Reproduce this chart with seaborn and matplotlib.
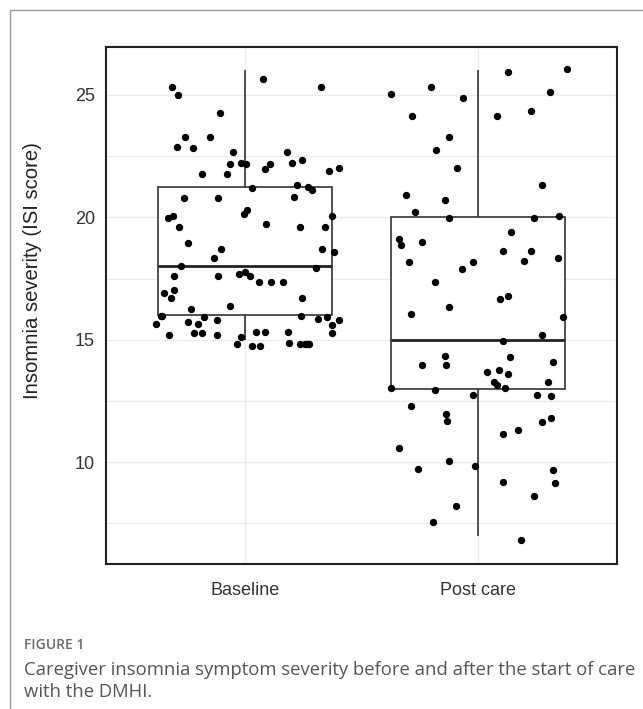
import numpy as np
import pandas as pd
import matplotlib
matplotlib.use('Agg')
import matplotlib.pyplot as plt
from matplotlib.lines import Line2D
import seaborn as sns

groups = ['Baseline', 'Post care']

# ISI scores as plotted (jittered vertically)
baseline_isi = [25.31, 24.99, 25.65, 25.31, 24.26, 23.28, 23.28, 22.89, 22.82, 22.68,
                22.68, 22.17, 22.23, 22.17, 22.17, 21.96, 22.23, 22.36, 21.77, 21.76,
                21.89, 22.03, 21.19, 21.32, 21.25, 21.12, 20.78, 20.78, 20.84, 19.99,
                20.05, 20.12, 20.32, 20.05, 19.59, 19.73, 19.59, 19.59, 18.94, 18.72,
                18.34, 18.72, 18.58, 18.02, 17.94, 17.61, 17.61, 17.68, 17.77, 17.61,
                17.37, 17.37, 17.37, 16.91, 17.03, 16.69, 16.70, 16.24, 16.38, 15.99,
                15.66, 15.71, 15.64, 15.92, 15.79, 15.99, 15.85, 15.92, 15.79, 15.59,
                15.26, 15.19, 15.26, 15.26, 15.19, 15.12, 15.31, 15.31, 15.31, 14.81,
                14.74, 14.74, 14.86, 14.81, 14.81, 14.81, 14.81, 15.99]
# horizontal jitter of each baseline point
baseline_jitter = [-0.316, -0.288, 0.078, 0.325, -0.110, -0.259, -0.151, -0.295, -0.226, -0.053,
                   0.179, -0.067, -0.020, 0.004, 0.107, 0.085, 0.201, 0.244, -0.081, -0.185,
                   0.360, 0.402, 0.030, 0.222, 0.268, 0.285, -0.266, -0.117, 0.208, -0.335,
                   -0.313, -0.006, 0.009, 0.372, -0.286, 0.090, 0.236, 0.345, -0.245, -0.103,
                   -0.134, 0.332, 0.382, -0.279, 0.306, -0.308, -0.117, -0.027, -0.003, 0.018,
                   0.057, 0.111, 0.160, -0.350, -0.306, -0.322, 0.242, -0.232, -0.067, -0.362,
                   -0.385, -0.248, -0.205, -0.177, -0.121, 0.239, 0.311, 0.353, 0.402, 0.373,
                   0.373, -0.328, -0.219, -0.185, -0.121, -0.017, 0.047, 0.083, 0.182, -0.036,
                   0.030, 0.064, 0.189, 0.236, 0.256, 0.275, 0.266, -0.360]

post_isi = [25.05, 25.31, 24.86, 25.93, 26.05, 25.12, 24.14, 24.14, 24.33, 23.28,
            22.75, 22.03, 21.31, 20.91, 20.72, 20.20, 19.99, 19.99, 20.05, 19.13,
            18.87, 19.00, 19.40, 18.61, 18.61, 18.22, 18.35, 18.16, 18.16, 17.89,
            17.37, 16.65, 16.78, 16.32, 16.06, 15.92, 15.19, 14.93, 14.35, 13.96,
            13.96, 14.28, 14.08, 13.67, 13.75, 13.61, 13.29, 13.16, 13.29, 13.03,
            12.96, 13.03, 12.76, 12.76, 12.69, 12.29, 11.96, 11.70, 11.63, 11.82,
            11.17, 11.30, 10.58, 10.05, 9.85, 9.73, 9.66, 9.13, 9.20, 8.62,
            8.22, 7.57, 6.84]
post_jitter = [-0.372, -0.201, -0.061, 0.132, 0.386, 0.311, -0.282, 0.083, 0.228, -0.124,
               -0.178, -0.090, 0.275, -0.309, -0.142, -0.268, -0.124, 0.241, 0.352, -0.338,
               -0.330, -0.241, 0.145, 0.111, 0.228, 0.199, 0.345, -0.296, -0.020, -0.068,
               -0.185, 0.097, 0.132, -0.124, -0.289, 0.366, 0.275, 0.111, -0.142, -0.241,
               -0.137, 0.138, 0.325, 0.041, 0.090, 0.132, 0.070, 0.083, 0.303, -0.372,
               -0.185, 0.118, -0.020, 0.255, 0.318, -0.289, -0.137, -0.130, 0.275, 0.318,
               0.111, 0.172, -0.338, -0.124, -0.013, -0.255, 0.325, 0.331, 0.111, 0.241,
               -0.095, -0.192, 0.187]

ylabel = 'Insomnia severity (ISI score)'
fig_label = 'FIGURE 1'
caption = ['Caregiver insomnia symptom severity before and after the start of care',
           'with the DMHI.']

sns.set_style('white')
plt.rcParams['font.family'] = ['Liberation Sans', 'DejaVu Sans']

# box stats come from the integer scores, points keep their jitter
df = pd.DataFrame({
    'time': [groups[0]] * len(baseline_isi) + [groups[1]] * len(post_isi),
    'isi': np.round(baseline_isi + post_isi),
})
xpos = np.r_[0 + np.array(baseline_jitter), 1 + np.array(post_jitter)]
ypos = np.r_[baseline_isi, post_isi]

fig = plt.figure(figsize=(6.43, 7.09), dpi=100)
ax = fig.add_axes([106 / 643, 1 - 564 / 709, 511 / 643, 517 / 709])

sns.boxplot(data=df, x='time', y='isi', order=groups, width=0.75, color='white',
            linecolor='#333333', linewidth=1.2, showfliers=False, showcaps=False,
            whis=1.5, medianprops=dict(linewidth=2.0, color='#222222'), ax=ax, zorder=2)
sns.scatterplot(x=xpos, y=ypos, color='black', s=28, linewidth=0, ax=ax, zorder=3,
                legend=False)

ax.set_xlim(-0.6, 1.6)
ax.set_ylim(5.84, 26.96)
ax.set_xticks([0, 1])
ax.set_xticklabels(groups)
ax.set_yticks([10, 15, 20, 25])
ax.set_yticks([7.5, 12.5, 17.5, 22.5], minor=True)
ax.grid(True, which='both', color='#EBEBEB', linewidth=1.0)
ax.set_axisbelow(True)
ax.tick_params(axis='both', which='major', length=3, color='#DDDDDD', labelsize=13,
               labelcolor='#333333', pad=5)
ax.tick_params(axis='y', which='minor', length=0)
ax.tick_params(axis='x', pad=10)
for sp in ax.spines.values():
    sp.set_visible(True)
    sp.set_color('#222222')
    sp.set_linewidth(1.5)
ax.set_xlabel('')
ax.set_ylabel(ylabel, fontsize=14.6, color='#222222')
ax.yaxis.set_label_coords(-0.126, 0.567)

# outer frame of the figure panel
fig.add_artist(Line2D([10 / 643, 10 / 643], [0, 1 - 10 / 709], color='#9A9A9A', lw=1.0,
                      transform=fig.transFigure))
fig.add_artist(Line2D([10 / 643, 1], [1 - 10 / 709, 1 - 10 / 709], color='#9A9A9A', lw=1.0,
                      transform=fig.transFigure))

fig.text(24 / 643, 1 - 645 / 709, fig_label, fontsize=10, color='#6A6A6A',
         fontweight='semibold', va='center', family=['Open Sans', 'DejaVu Sans'])
fig.text(24 / 643, 1 - 670 / 709, caption[0], fontsize=13.3, color='#555555',
         va='center', family=['Open Sans', 'DejaVu Sans'])
fig.text(24 / 643, 1 - 692 / 709, caption[1], fontsize=13.3, color='#555555',
         va='center', family=['Open Sans', 'DejaVu Sans'])

fig.savefig('out.png', dpi=100)
